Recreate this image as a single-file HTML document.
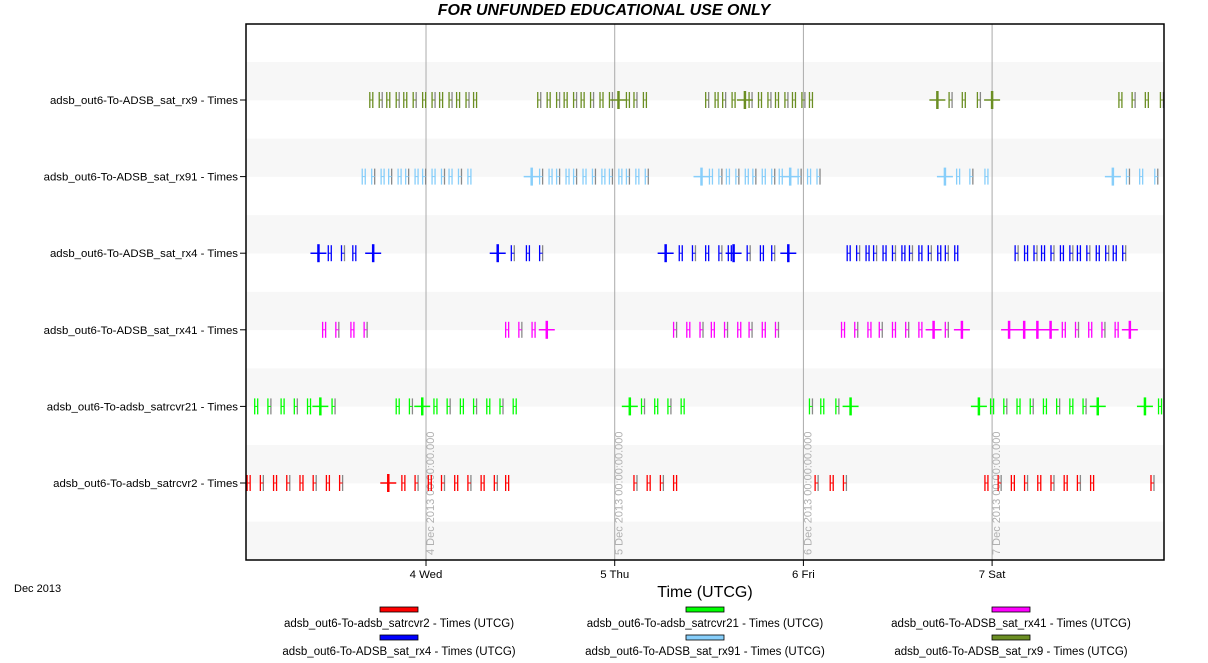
<!DOCTYPE html>
<html><head><meta charset="utf-8"><style>
body{margin:0;background:#fff;width:1208px;height:658px;overflow:hidden;font-family:"Liberation Sans",sans-serif}
</style></head><body>
<svg id="chart" width="1208" height="658" xmlns="http://www.w3.org/2000/svg" font-family="Liberation Sans, sans-serif">
<text x="604" y="15" text-anchor="middle" font-size="16" font-weight="bold" font-style="italic">FOR UNFUNDED EDUCATIONAL USE ONLY</text>
<g id="bands"></g><g id="grid"></g><g id="marks"></g>
<rect x="246" y="24" width="918" height="536" fill="none" stroke="#000" stroke-width="1.5"/>
<g id="axes" font-size="11.4"></g>
<text x="14" y="592" font-size="11">Dec 2013</text>
<text x="705" y="597" text-anchor="middle" font-size="16">Time (UTCG)</text>
<g id="legend" font-size="11.5"></g>
</svg>
<script>
const rowNames=["adsb_out6-To-ADSB_sat_rx9 - Times","adsb_out6-To-ADSB_sat_rx91 - Times","adsb_out6-To-ADSB_sat_rx4 - Times","adsb_out6-To-ADSB_sat_rx41 - Times","adsb_out6-To-adsb_satrcvr21 - Times","adsb_out6-To-adsb_satrcvr2 - Times"];
const rowColors=["#6b8e23","#87cefa","#0000ff","#ff00ff","#00ff00","#ff0000"];
const dayTicks=[4,5,6,7];
const dayLabels=["4 Wed","5 Thu","6 Fri","7 Sat"];
const dayStamps=["4 Dec 2013 00:00:00.000","5 Dec 2013 00:00:00.000","6 Dec 2013 00:00:00.000","7 Dec 2013 00:00:00.000"];
const marksRx9=[3.71,3.76,3.80,3.85,3.89,3.94,3.99,4.04,4.08,4.13,4.17,4.22,4.26,4.60,4.65,4.70,4.74,4.79,4.83,4.88,4.93,4.98,5.07,5.11,5.16,5.49,5.54,5.58,5.63,5.72,5.77,5.82,5.86,5.91,5.95,6.00,6.04,6.78,6.85,6.93,7.68,7.75,7.82,7.90];
const crossRx9=[5.02,5.69,6.71,7.00];
const marksRx91=[3.67,3.72,3.77,3.81,3.86,3.90,3.95,3.99,4.04,4.09,4.13,4.18,4.23,4.61,4.66,4.70,4.75,4.79,4.84,4.89,4.94,4.98,5.03,5.07,5.12,5.17,5.51,5.56,5.60,5.65,5.70,5.74,5.79,5.84,5.88,5.98,6.03,6.08,6.82,6.89,6.97,7.72,7.79,7.87];
const crossRx91=[4.56,5.46,5.93,6.75,7.64];
const marksRx4=[3.49,3.56,3.62,4.46,4.54,4.61,5.35,5.42,5.49,5.56,5.61,5.71,5.78,5.84,6.24,6.29,6.34,6.38,6.43,6.48,6.53,6.57,6.62,6.67,6.72,6.76,6.81,7.13,7.18,7.23,7.27,7.32,7.37,7.42,7.46,7.51,7.56,7.61,7.65,7.70];
const crossRx4=[3.43,3.72,4.38,5.27,5.63,5.92];
const marksRx41=[3.46,3.53,3.61,3.68,4.43,4.50,4.57,5.32,5.39,5.46,5.52,5.59,5.66,5.72,5.79,5.86,6.21,6.28,6.35,6.41,6.48,6.55,6.62,6.76,7.38,7.45,7.52,7.59,7.66];
const crossRx41=[4.64,6.69,6.84,7.09,7.17,7.24,7.31,7.73];
const marksR21=[3.10,3.17,3.24,3.31,3.38,3.51,3.85,3.92,4.05,4.12,4.19,4.26,4.33,4.40,4.47,5.15,5.22,5.29,5.36,6.04,6.10,6.18,7.00,7.07,7.14,7.21,7.28,7.35,7.42,7.49,7.89];
const crossR21=[3.44,3.98,5.08,6.25,6.93,7.56,7.81];
const marksR2=[3.06,3.13,3.20,3.27,3.34,3.41,3.48,3.55,3.88,3.95,4.02,4.09,4.16,4.23,4.30,4.37,4.43,5.11,5.18,5.25,5.32,6.07,6.15,6.22,6.97,7.04,7.11,7.18,7.25,7.32,7.39,7.46,7.53,7.85];
const crossR2=[3.80];
const rowMarks=[marksRx9,marksRx91,marksRx4,marksRx41,marksR21,marksR2];
const rowCross=[crossRx9,crossRx91,crossRx4,crossRx41,crossR21,crossR2];
const legendLabels=["adsb_out6-To-adsb_satrcvr2 - Times (UTCG)","adsb_out6-To-adsb_satrcvr21 - Times (UTCG)","adsb_out6-To-ADSB_sat_rx41 - Times (UTCG)","adsb_out6-To-ADSB_sat_rx4 - Times (UTCG)","adsb_out6-To-ADSB_sat_rx91 - Times (UTCG)","adsb_out6-To-ADSB_sat_rx9 - Times (UTCG)"];
const legendColors=["#ff0000","#00ff00","#ff00ff","#0000ff","#87cefa","#6b8e23"];

const NS="http://www.w3.org/2000/svg";
const X0=246,X1=1164,T0=3.046,T1=7.911;
const x=t=>X0+(t-T0)/(T1-T0)*(X1-X0);
const rowY=i=>100+i*76.6;
function mk(tag,attrs,parent,text){const e=document.createElementNS(NS,tag);for(const k in attrs)e.setAttribute(k,attrs[k]);if(text!==undefined)e.textContent=text;parent.appendChild(e);return e;}
const bands=document.getElementById('bands'),grid=document.getElementById('grid'),marks=document.getElementById('marks'),axes=document.getElementById('axes'),legend=document.getElementById('legend');
for(let i=0;i<7;i++){const b=mk('rect',{x:X0,y:rowY(i)-38,width:X1-X0,height:38.3,fill:'#f7f7f7'},bands);

}
dayTicks.forEach((d,i)=>{const xx=x(d);
const l=mk('line',{x1:xx,y1:24,x2:xx,y2:560,stroke:'#aaa','stroke-width':1},grid);


const s=mk('text',{x:xx+8,y:555,transform:`rotate(-90 ${xx+8} 555)`,'font-size':11,fill:'#b0b0b0'},grid,dayStamps[i]);


const t=mk('line',{x1:xx,y1:560,x2:xx,y2:566,stroke:'#000'},axes);


const tl=mk('text',{x:xx,y:578,'text-anchor':'middle'},axes,dayLabels[i]);

});
rowNames.forEach((n,i)=>{const y=rowY(i),c=rowColors[i];
const lab=mk('text',{x:238,y:y+4,'text-anchor':'end'},axes,n);


mk('line',{x1:240,y1:y,x2:246,y2:y,stroke:'#000'},axes);
rowMarks[i].forEach((t,j)=>{const xx=x(t);const g=mk('g',{},marks);


mk('line',{x1:xx-1.5,y1:y-8,x2:xx-1.5,y2:y+8,stroke:c,'stroke-width':1.3},g);
mk('line',{x1:xx+1.5,y1:y-8,x2:xx+1.5,y2:y+8,stroke:(j%2?'#888':c),'stroke-width':1.3},g);
mk('line',{x1:xx-1.5,y1:y,x2:xx+1.5,y2:y,stroke:c,'stroke-width':1},g);});
rowCross[i].forEach(t=>{const xx=x(t);const g=mk('g',{},marks);


mk('line',{x1:xx-8,y1:y,x2:xx+8,y2:y,stroke:c,'stroke-width':1.5},g);
mk('line',{x1:xx,y1:y-9,x2:xx,y2:y+9,stroke:c,'stroke-width':2.5},g);});});
legendLabels.forEach((l,i)=>{const cx=[399,705,1011][i%3],yb=i<3?607:635;const g=mk('g',{},legend);


mk('rect',{x:cx-19,y:yb,width:38,height:5,fill:legendColors[i],stroke:'#000','stroke-width':0.8},g);
mk('text',{x:cx,y:yb+20,'text-anchor':'middle'},g,l);});
</script>
</body></html>
